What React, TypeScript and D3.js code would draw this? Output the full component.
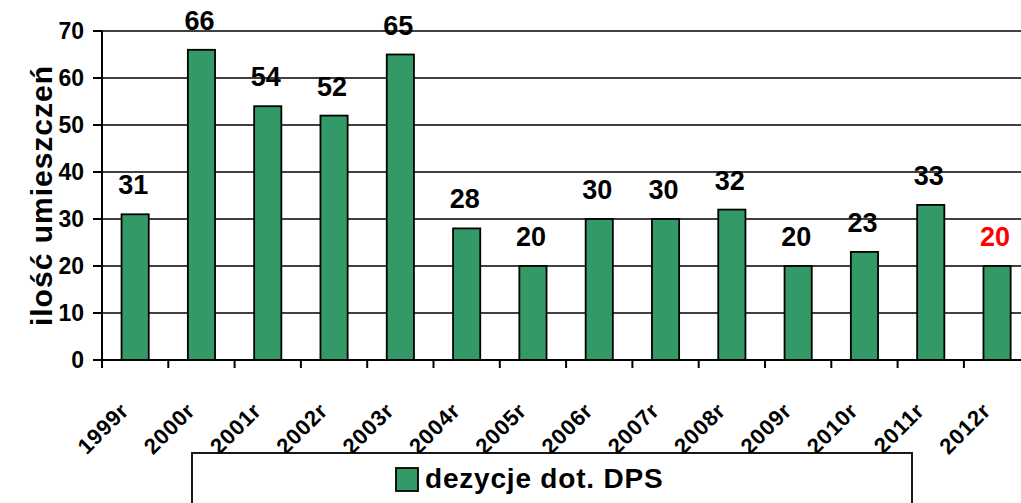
import React, { useEffect } from 'react';
import * as d3 from 'd3';

const years = ['1999r', '2000r', '2001r', '2002r', '2003r', '2004r', '2005r', '2006r', '2007r', '2008r', '2009r', '2010r', '2011r', '2012r'];
const decisions = [31, 66, 54, 52, 65, 28, 20, 30, 30, 32, 20, 23, 33, 20];
const yTicks = [0, 10, 20, 30, 40, 50, 60, 70];
const seriesName = 'dezycje dot. DPS';
const yTitle = 'ilość umieszczeń';

const W = 1021;
const H = 503;
const FONT = '"Liberation Sans", Arial, sans-serif';
const GREEN = '#339966';

export default function App() {
  useEffect(() => {
    document.body.style.margin = '0';
  }, []);

  const margin = { left: 102, top: 31, bottom: 360 };
  const bandW = 66.3;
  const x = d3.scaleBand<string>()
    .domain(years)
    .range([margin.left, margin.left + bandW * years.length])
    .paddingInner(0.59)
    .paddingOuter(0.295);
  const y = d3.scaleLinear().domain([0, 70]).range([margin.bottom, margin.top]);
  const plotRight = margin.left + bandW * years.length;
  const step = x.step();
  const bounds = d3.range(years.length + 1).map(i => margin.left + i * bandW);

  return (
    <svg width={W} height={H} style={{ display: 'block', background: '#fff' }} fontFamily={FONT}>
      {/* gridlines */}
      {yTicks.filter(t => t > 0).map(t => (
        <line key={t} x1={margin.left} x2={plotRight} y1={y(t)} y2={y(t)} stroke="#000" strokeWidth={1.6} />
      ))}
      {/* bars */}
      {decisions.map((v, i) => (
        <rect key={years[i]} x={x(years[i])} y={y(v)} width={x.bandwidth()} height={y(0) - y(v)}
          fill={GREEN} stroke="#000" strokeWidth={1.8} />
      ))}
      {/* value labels */}
      {decisions.map((v, i) => (
        <text key={'l' + i} x={(x(years[i]) as number) + x.bandwidth() / 2 - 2} y={y(v) - 20}
          textAnchor="middle" fontSize={27} fontWeight="bold"
          fill={i === decisions.length - 1 ? '#ff0000' : '#000'}>{v}</text>
      ))}
      {/* y axis */}
      <line x1={margin.left} x2={margin.left} y1={y(70)} y2={y(0)} stroke="#000" strokeWidth={2} />
      {yTicks.map(t => (
        <g key={'yt' + t}>
          <line x1={margin.left - 9} x2={margin.left} y1={y(t)} y2={y(t)} stroke="#000" strokeWidth={2} />
          <text x={84} y={y(t)} dy="0.36em" textAnchor="end" fontSize={23} fontWeight="bold">{t}</text>
        </g>
      ))}
      {/* x axis */}
      <line x1={margin.left} x2={plotRight} y1={y(0)} y2={y(0)} stroke="#000" strokeWidth={2} />
      {bounds.map((b, i) => (
        <line key={'xt' + i} x1={b} x2={b} y1={y(0)} y2={y(0) + 8} stroke="#000" strokeWidth={2} />
      ))}
      {years.map((yr, i) => {
        const cx = margin.left + step * i + step / 2 - 5;
        return (
          <text key={yr} transform={`translate(${cx},${412}) rotate(-45)`} textAnchor="end"
            fontSize={22} fontWeight="bold" letterSpacing={0.8}>{yr}</text>
        );
      })}
      {/* y title */}
      <text transform={`translate(${52},${(y(0) + y(70)) / 2}) rotate(-90)`} textAnchor="middle"
        fontSize={30} fontWeight="bold" letterSpacing={1}>{yTitle}</text>
      {/* legend */}
      <rect x={192} y={453} width={720} height={80} fill="#fff" stroke="#000" strokeWidth={1.8} />
      <rect x={396} y={468} width={22} height={23} fill={GREEN} stroke="#000" strokeWidth={1.8} />
      <text x={425} y={488} fontSize={28} fontWeight="bold" letterSpacing={0.8}>{seriesName}</text>
    </svg>
  );
}
